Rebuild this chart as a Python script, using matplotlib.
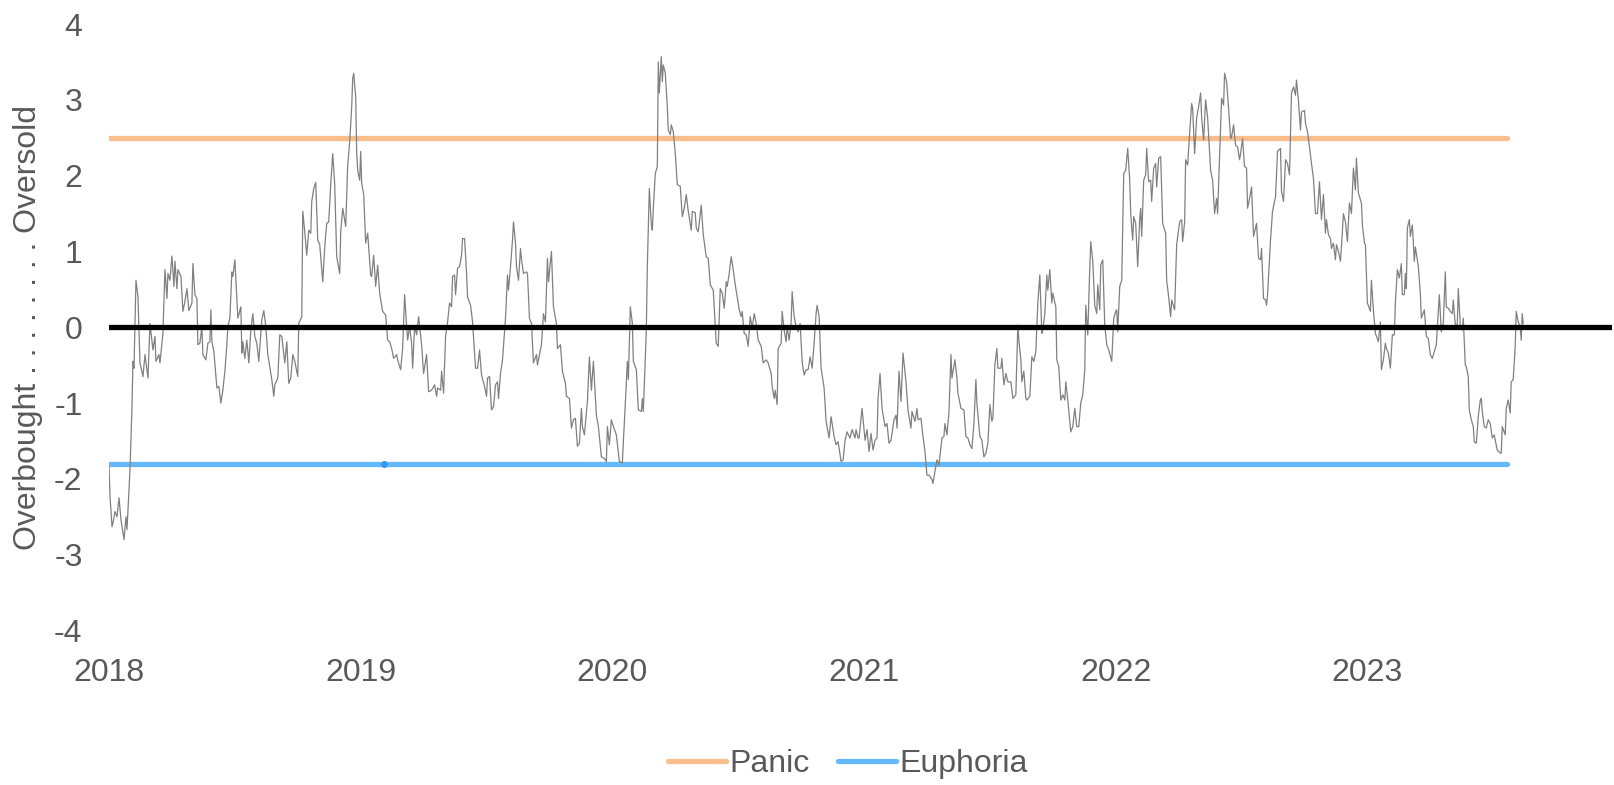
import matplotlib
matplotlib.use("Agg")
import matplotlib.pyplot as plt

plt.rcParams['font.family'] = ['Liberation Sans', 'DejaVu Sans']
plt.rcParams['axes.unicode_minus'] = False

# trading-day index since start of 2018 and the sentiment score
day = [0, 1, 3, 4, 6, 8, 10, 12, 15, 17, 18, 21, 23, 24, 25, 27, 29, 31, 34, 36,
       39, 41, 44, 46, 47, 50, 51, 54, 56, 58, 59, 61, 63, 65, 66, 68, 69, 72, 74, 76,
       78, 80, 83, 84, 86, 88, 89, 91, 93, 94, 97, 99, 101, 102, 103, 105, 108, 110, 112, 114,
       116, 118, 119, 121, 123, 124, 126, 128, 129, 132, 133, 134, 136, 138, 140, 142, 144, 146, 148, 150,
       153, 155, 157, 159, 163, 165, 166, 169, 171, 173, 176, 178, 180, 182, 184, 186, 189, 190, 193, 194,
       196, 198, 200, 202, 203, 205, 207, 209, 211, 214, 216, 218, 220, 222, 224, 226, 228, 231, 232, 234,
       237, 239, 241, 243, 244, 245, 247, 248, 249, 251, 252, 253, 255, 257, 259, 262, 263, 265, 267, 269,
       271, 274, 277, 279, 281, 283, 285, 288, 289, 292, 294, 296, 298, 299, 301, 303, 304, 306, 308, 310,
       313, 315, 318, 320, 323, 326, 328, 329, 332, 333, 335, 337, 339, 341, 343, 344, 346, 347, 349, 351,
       353, 354, 356, 358, 359, 362, 364, 367, 369, 371, 373, 376, 378, 379, 381, 383, 385, 387, 389, 390,
       392, 394, 397, 399, 400, 402, 404, 405, 407, 408, 410, 412, 413, 415, 418, 419, 421, 423, 425, 428,
       429, 431, 433, 435, 437, 439, 440, 443, 445, 448, 449, 452, 454, 457, 458, 461, 463, 465, 467, 469,
       471, 473, 474, 476, 479, 481, 483, 485, 488, 490, 493, 496, 498, 499, 501, 503, 504, 508, 511, 514,
       515, 517, 519, 520, 522, 524, 525, 528, 530, 533, 534, 535, 538, 539, 541, 543, 544, 545, 547, 549,
       550, 551, 553, 554, 555, 557, 559, 560, 562, 563, 565, 567, 569, 572, 574, 576, 578, 580, 583, 584,
       587, 588, 590, 593, 595, 598, 600, 602, 605, 607, 608, 610, 612, 614, 616, 618, 619, 621, 623, 625,
       627, 629, 631, 633, 634, 636, 638, 640, 642, 644, 646, 648, 650, 653, 655, 658, 660, 663, 664, 666,
       667, 669, 670, 673, 674, 676, 678, 679, 681, 683, 684, 686, 688, 690, 692, 694, 696, 698, 700, 702,
       704, 706, 708, 709, 711, 713, 716, 718, 721, 723, 726, 728, 730, 733, 735, 737, 739, 742, 744, 747,
       748, 750, 751, 754, 757, 759, 761, 763, 765, 767, 769, 770, 772, 774, 777, 779, 781, 783, 786, 788,
       789, 791, 793, 795, 798, 800, 803, 804, 807, 809, 810, 813, 815, 817, 819, 821, 824, 825, 827, 829,
       831, 834, 836, 837, 839, 841, 843, 844, 847, 849, 850, 853, 856, 858, 860, 862, 864, 866, 868, 869,
       872, 874, 876, 878, 880, 882, 884, 885, 887, 889, 890, 893, 894, 896, 898, 900, 903, 905, 908, 910,
       911, 913, 914, 916, 918, 919, 922, 924, 926, 928, 930, 932, 934, 935, 937, 939, 940, 942, 944, 945,
       948, 949, 951, 953, 955, 957, 958, 960, 963, 965, 967, 969, 971, 973, 975, 977, 978, 980, 982, 983,
       985, 987, 989, 990, 992, 993, 995, 997, 999, 1001, 1004, 1006, 1008, 1009, 1010, 1012, 1014, 1016, 1018, 1020,
       1022, 1023, 1025, 1026, 1028, 1030, 1032, 1033, 1034, 1036, 1038, 1039, 1041, 1043, 1044, 1046, 1048, 1049, 1051, 1053,
       1055, 1058, 1059, 1061, 1063, 1064, 1067, 1069, 1072, 1074, 1075, 1077, 1078, 1080, 1082, 1084, 1085, 1087, 1089, 1091,
       1093, 1094, 1096, 1098, 1100, 1103, 1105, 1107, 1109, 1110, 1113, 1114, 1116, 1117, 1119, 1121, 1123, 1124, 1126, 1128,
       1130, 1132, 1133, 1135, 1137, 1139, 1140, 1142, 1144, 1146, 1149, 1151, 1153, 1154, 1156, 1158, 1159, 1160, 1163, 1165,
       1168, 1170, 1173, 1174, 1176, 1178, 1180, 1182, 1184, 1186, 1188, 1189, 1191, 1193, 1194, 1197, 1198, 1200, 1202, 1204,
       1206, 1208, 1210, 1212, 1214, 1216, 1218, 1219, 1221, 1223, 1224, 1226, 1228, 1229, 1231, 1233, 1234, 1236, 1238, 1240,
       1242, 1244, 1246, 1248, 1249, 1251, 1254, 1255, 1257, 1258, 1260, 1263, 1264, 1266, 1268, 1271, 1273, 1274, 1276, 1278,
       1279, 1281, 1283, 1285, 1287, 1288, 1290, 1292, 1294, 1295, 1297, 1298, 1299, 1300, 1302, 1303, 1305, 1307, 1308, 1311,
       1313, 1314, 1317, 1319, 1321, 1323, 1325, 1327, 1329, 1332, 1334, 1336, 1338, 1339, 1341, 1343, 1345, 1346, 1348, 1350,
       1351, 1353, 1355, 1356, 1358, 1359, 1361, 1362, 1364, 1366, 1367, 1369, 1371, 1373, 1374, 1375, 1377, 1379, 1381, 1383,
       1385, 1387, 1388, 1390, 1393, 1394, 1395, 1398, 1399, 1401, 1403, 1404, 1406, 1408, 1409, 1411, 1413, 1414, 1415, 1416]

score = [-1.84, -2.23, -2.63, -2.58, -2.43, -2.50, -2.25, -2.54, -2.80, -2.50, -2.67, -1.88, -1.05, -0.45, -0.54, 0.62, 0.40, -0.47, -0.65, -0.36,
         -0.67, 0.05, -0.30, -0.12, -0.45, -0.36, -0.47, -0.08, 0.76, 0.38, 0.71, 0.62, 0.94, 0.54, 0.87, 0.51, 0.76, 0.67, 0.21, 0.34,
         0.51, 0.22, 0.32, 0.84, 0.43, 0.38, -0.23, -0.21, 0.01, -0.36, -0.43, -0.21, -0.19, 0.23, -0.19, -0.32, -0.80, -0.78, -1.00, -0.83,
         -0.58, -0.23, 0.01, 0.12, 0.73, 0.67, 0.89, 0.36, 0.12, 0.27, -0.34, -0.19, -0.41, -0.17, -0.47, -0.04, 0.18, -0.12, -0.21, -0.45,
         0.10, 0.22, 0.01, -0.36, -0.69, -0.91, -0.76, -0.67, -0.10, -0.12, -0.47, -0.19, -0.74, -0.67, -0.36, -0.45, -0.65, 0.05, 0.14, 1.53,
         1.26, 0.95, 1.28, 1.24, 1.66, 1.83, 1.91, 1.15, 1.09, 0.60, 1.06, 1.37, 1.39, 1.88, 2.29, 1.88, 0.93, 0.71, 1.26, 1.57,
         1.33, 2.14, 2.45, 2.91, 3.28, 3.35, 3.04, 2.30, 2.07, 1.94, 2.32, 1.90, 1.75, 1.11, 1.24, 0.69, 0.67, 0.95, 0.54, 0.82,
         0.45, 0.21, 0.16, -0.17, -0.19, -0.28, -0.41, -0.36, -0.43, -0.56, -0.28, 0.43, 0.01, -0.17, 0.01, -0.21, -0.54, 0.01, -0.10, 0.14,
         -0.23, -0.61, -0.36, -0.85, -0.83, -0.76, -0.91, -0.80, -0.83, -0.58, -0.87, -0.12, 0.07, 0.32, 0.27, 0.67, 0.69, 0.43, 0.78, 0.80,
         0.95, 1.17, 1.17, 0.71, 0.40, 0.29, 0.07, -0.54, -0.54, -0.30, -0.63, -0.78, -0.91, -0.67, -0.65, -1.09, -1.05, -0.76, -0.72, -0.94,
         -0.61, -0.43, 0.12, 0.69, 0.49, 0.80, 1.15, 1.39, 1.11, 0.80, 0.62, 1.04, 0.89, 0.71, 0.73, 0.71, 0.12, 0.05, -0.47, -0.36,
         -0.50, -0.36, -0.23, 0.18, 0.07, 0.91, 0.60, 1.00, 0.27, 0.05, -0.28, -0.23, -0.58, -0.74, -0.91, -0.94, -1.33, -1.22, -1.20, -1.57,
         -1.53, -1.07, -1.31, -1.42, -0.98, -0.39, -0.83, -0.45, -1.16, -1.31, -1.71, -1.73, -1.77, -1.31, -1.55, -1.22, -1.27, -1.42, -1.77, -1.79,
         -1.51, -1.00, -0.45, -0.69, 0.27, 0.05, -0.45, -0.56, -1.09, -1.11, -0.94, -1.11, -0.04, 0.80, 1.83, 1.35, 1.28, 1.57, 2.03, 2.12,
         3.50, 3.09, 3.57, 3.24, 3.46, 3.35, 2.91, 2.60, 2.54, 2.67, 2.58, 2.29, 1.88, 1.86, 1.46, 1.57, 1.75, 1.53, 1.28, 1.53,
         1.51, 1.31, 1.26, 1.61, 1.22, 0.93, 0.91, 0.56, 0.49, 0.03, -0.21, -0.25, 0.51, 0.45, 0.25, 0.60, 0.54, 0.71, 0.93, 0.76,
         0.56, 0.40, 0.23, 0.14, 0.21, -0.08, -0.10, -0.25, 0.14, -0.01, 0.18, 0.05, -0.17, -0.25, -0.47, -0.43, -0.47, -0.61, -0.78, -0.94,
         -0.83, -1.02, -0.28, -0.21, 0.21, -0.04, -0.19, 0.01, -0.17, 0.07, 0.47, 0.14, 0.01, -0.06, 0.05, -0.45, -0.63, -0.56, -0.56, -0.39,
         -0.54, -0.21, 0.18, 0.29, 0.14, -0.54, -0.80, -1.24, -1.46, -1.18, -1.44, -1.55, -1.51, -1.77, -1.75, -1.49, -1.38, -1.46, -1.35, -1.46,
         -1.35, -1.46, -1.46, -1.07, -1.49, -1.35, -1.64, -1.40, -1.62, -1.49, -1.46, -0.94, -0.61, -1.07, -1.31, -1.27, -1.53, -1.49, -1.22, -1.16,
         -1.33, -0.58, -0.98, -0.34, -0.72, -1.09, -1.33, -1.11, -1.24, -1.07, -1.22, -1.20, -1.44, -1.64, -1.95, -1.95, -2.01, -2.06, -1.90, -1.75,
         -1.82, -1.46, -1.44, -1.27, -1.42, -1.13, -0.36, -0.67, -0.43, -0.67, -0.87, -1.07, -1.09, -1.44, -1.46, -1.55, -1.60, -1.27, -0.69, -1.00,
         -1.44, -1.49, -1.71, -1.66, -1.53, -1.02, -1.24, -1.20, -0.50, -0.28, -0.54, -0.54, -0.41, -0.76, -0.61, -0.72, -0.72, -0.94, -0.89, 0.03,
         -0.17, -0.43, -0.72, -0.58, -0.94, -0.96, -0.91, -0.39, -0.45, -0.32, 0.32, 0.69, -0.08, -0.04, 0.18, 0.69, 0.49, 0.76, 0.32, 0.45,
         0.27, -0.43, -0.52, -0.96, -0.89, -0.96, -0.72, -0.96, -1.38, -1.31, -1.07, -1.31, -1.31, -1.00, -0.89, -0.56, 0.29, -0.10, 0.78, 1.13,
         0.87, 0.29, 0.18, 0.56, 0.23, 0.82, 0.89, 0.03, -0.23, -0.30, -0.45, 0.12, 0.21, 0.23, -0.06, 0.54, 0.62, 2.03, 2.07, 2.36,
         1.94, 1.50, 1.15, 1.46, 1.37, 0.80, 1.42, 1.57, 1.20, 1.94, 2.01, 2.36, 1.92, 1.94, 1.66, 2.10, 2.16, 1.85, 2.23, 2.25,
         1.37, 1.24, 0.62, 0.40, 0.14, 0.36, 0.23, 1.09, 1.39, 1.42, 1.13, 1.39, 2.21, 2.14, 2.56, 2.95, 2.89, 2.29, 2.76, 2.91,
         3.09, 2.77, 2.47, 3.00, 2.77, 2.07, 1.94, 1.50, 1.70, 1.50, 2.62, 3.02, 2.93, 3.35, 3.24, 2.89, 2.49, 2.51, 2.67, 2.40,
         2.38, 2.21, 2.29, 2.49, 2.12, 2.10, 1.57, 1.70, 1.85, 1.20, 1.37, 0.91, 0.89, 1.04, 0.38, 0.36, 0.29, 0.43, 1.15, 1.53,
         1.72, 2.32, 2.36, 1.79, 1.66, 2.21, 2.16, 2.01, 3.09, 3.17, 3.06, 3.26, 2.98, 2.60, 2.84, 2.86, 2.69, 2.58, 2.38, 2.16,
         1.96, 1.50, 1.50, 1.92, 1.42, 1.75, 1.24, 1.42, 1.22, 1.17, 1.04, 1.11, 0.89, 1.09, 1.00, 0.87, 1.06, 1.50, 1.39, 1.13,
         1.64, 1.50, 2.10, 1.81, 2.23, 1.77, 1.64, 1.35, 1.11, 1.09, 0.32, 0.21, 0.62, 0.23, -0.08, -0.19, 0.07, -0.56, -0.43, -0.21,
         -0.28, -0.34, -0.54, -0.10, -0.10, 0.32, 0.76, 0.65, 0.84, 0.43, 0.43, 0.71, 0.51, 1.31, 1.42, 1.20, 1.35, 0.87, 1.06, 0.80,
         0.45, 0.12, 0.23, -0.12, -0.15, -0.36, -0.41, -0.32, -0.23, 0.43, -0.06, 0.05, 0.73, 0.27, 0.25, 0.21, 0.18, 0.36, 0.03, 0.03,
         0.51, 0.03, -0.04, 0.12, -0.50, -0.52, -0.65, -1.09, -1.22, -1.31, -1.51, -1.53, -1.18, -0.96, -0.94, -1.11, -1.31, -1.33, -1.22, -1.27,
         -1.46, -1.42, -1.49, -1.62, -1.66, -1.66, -1.31, -1.42, -1.07, -0.96, -1.13, -0.72, -0.69, -0.25, 0.21, 0.07, 0.01, -0.17, 0.18, 0.05]

panic_level = 2.5
euphoria_level = -1.8
band_days = [0, 1400]
year_ticks = [0, 252, 504, 756, 1008, 1260]
year_labels = ['2018', '2019', '2020', '2021', '2022', '2023']

text_color = '#595959'
fs = 23

fig = plt.figure(figsize=(16.15, 7.85), dpi=100)
ax = fig.add_axes([0.0675, 0.1968, 0.9307, 0.7726])

ax.plot(band_days, [panic_level, panic_level], color='#FABE8C', lw=3.8,
        solid_capstyle='round', label='Panic', zorder=2)
ax.plot(band_days, [euphoria_level, euphoria_level], color='#64B9FA', lw=3.8,
        solid_capstyle='round', label='Euphoria', zorder=2)
ax.plot([275], [euphoria_level], 'o', color='#3399EE', ms=4, zorder=2)
ax.plot(day, score, color='#808080', lw=0.9, zorder=3)
ax.axhline(0, color='black', lw=3.8, zorder=4)

ax.set_xlim(0, 1505)
ax.set_ylim(-4, 4)
ax.set_yticks(range(-4, 5))
ax.set_xticks(year_ticks)
ax.set_xticklabels(year_labels)
ax.tick_params(axis='both', length=0, labelsize=fs, labelcolor=text_color)
ax.tick_params(axis='y', pad=19)
ax.tick_params(axis='x', pad=20)
for s in ax.spines.values():
    s.set_visible(False)

fig.text(0.0175, 0.583, 'Overbought . . . . . . . . Oversold', rotation=90,
         ha='center', va='center', fontsize=fs, color=text_color)

leg = fig.legend(loc='center', bbox_to_anchor=(0.525, 0.027), ncol=2, frameon=False,
                 fontsize=fs, handlelength=1.8, handletextpad=0.1, columnspacing=0.9)
for t in leg.get_texts():
    t.set_color(text_color)

fig.savefig('out.png', dpi=100)
